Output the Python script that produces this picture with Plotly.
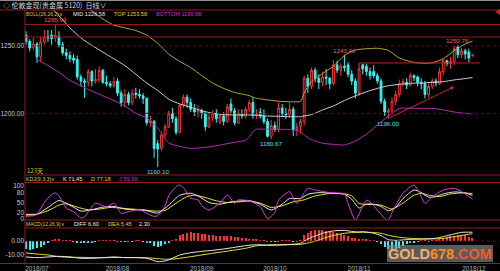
import plotly.graph_objects as go

W, H = 500, 271


def px(x):
    return x / W


def py(y):
    return 1 - y / H


# ---------------- data ----------------
idx = list(range(123))
opens = [1258, 1253.5, 1249, 1251.5, 1242, 1253, 1257, 1258, 1256, 1257,
         1251, 1245, 1243, 1241, 1240, 1227, 1224, 1223, 1231, 1224,
         1225, 1232, 1223, 1222, 1220.5, 1224, 1215, 1208, 1214, 1208,
         1215, 1214, 1213, 1211, 1193, 1194, 1177.5, 1174, 1184, 1190,
         1200, 1196, 1186, 1206, 1212, 1208, 1203, 1201, 1202, 1200,
         1190, 1197, 1200, 1193.5, 1198, 1194, 1207, 1202, 1193, 1200,
         1198, 1203, 1208, 1199, 1201, 1198, 1194, 1183, 1191, 1188,
         1204, 1200, 1199, 1203, 1188, 1190, 1194, 1226, 1220, 1232,
         1226, 1223, 1227, 1226, 1222, 1236, 1232, 1235, 1236, 1229,
         1224, 1215, 1236, 1235, 1231, 1231, 1228, 1224, 1209, 1201,
         1202, 1209, 1214, 1222, 1223, 1221, 1228, 1227, 1223, 1222,
         1214, 1220, 1224, 1222, 1231, 1239, 1237, 1238, 1249.5, 1243.5,
         1246.5, 1245.5, 1243]
highs = [1261, 1255, 1256, 1253, 1257, 1262, 1262, 1262, 1265.99, 1261,
         1253, 1248, 1246, 1244, 1243, 1229, 1226, 1233, 1232, 1233,
         1235, 1233, 1228, 1224, 1227, 1226, 1217, 1218, 1216, 1218,
         1219, 1218, 1215, 1212, 1198, 1195, 1180, 1186, 1192, 1202,
         1204, 1198, 1207, 1214, 1214, 1211, 1207, 1206, 1203.5, 1201,
         1200, 1202, 1203, 1199, 1201, 1207, 1211, 1204, 1203, 1203,
         1205, 1210, 1212, 1203, 1204, 1203, 1196, 1195, 1194, 1208,
         1207, 1204, 1208, 1205, 1193, 1196, 1228, 1229, 1234, 1234,
         1229, 1231, 1233, 1227, 1239.5, 1239, 1237, 1243.48, 1238, 1232,
         1226, 1237.4, 1237, 1237, 1234, 1236, 1230, 1226, 1211, 1204,
         1212, 1217, 1225, 1226, 1226, 1230, 1229, 1228, 1226, 1224,
         1222, 1226, 1226, 1234, 1241, 1240, 1242, 1250, 1250.76, 1248.5,
         1248, 1248, 1244]
lows = [1251, 1246, 1247, 1237.5, 1238, 1251, 1253, 1251, 1253, 1249,
        1243, 1240, 1238, 1237, 1225, 1220, 1211.5, 1220, 1220, 1222,
        1223, 1222, 1220, 1219, 1219, 1213, 1205, 1205, 1206, 1206,
        1211, 1211, 1207, 1191, 1190, 1167, 1160.1, 1172, 1182, 1189,
        1193, 1184, 1185, 1204, 1204, 1201, 1198, 1197, 1196, 1187,
        1189, 1194, 1193, 1192, 1191, 1193, 1200, 1191, 1192, 1196,
        1196, 1201, 1196, 1196, 1196, 1192, 1182, 1180.67, 1186, 1186,
        1198, 1196, 1197, 1183, 1183, 1185, 1191, 1215, 1218, 1223,
        1218, 1220, 1221, 1218, 1221, 1230, 1228, 1231, 1227, 1221,
        1211, 1213, 1229, 1228, 1225, 1226, 1222, 1207, 1198, 1196.00,
        1199, 1206, 1212, 1220, 1218, 1220, 1224, 1220, 1218, 1211,
        1212, 1218, 1220, 1221, 1228, 1235, 1233, 1236, 1241, 1241,
        1240, 1238, 1242]
closes = [1253.5, 1248.5, 1251.5, 1242, 1253, 1257, 1256, 1255.5, 1258, 1251,
          1245, 1243, 1240.5, 1239.5, 1227, 1224, 1223, 1231, 1224, 1225,
          1232, 1223, 1222, 1220.5, 1223.5, 1215, 1208, 1214, 1208, 1215,
          1214, 1213, 1211, 1193, 1194, 1174, 1173.5, 1184, 1190, 1200,
          1196, 1186, 1206, 1212, 1208, 1203, 1201, 1202, 1200, 1190,
          1197, 1200, 1196, 1198, 1194, 1205, 1202, 1193, 1200, 1198,
          1203, 1208, 1199, 1199.5, 1198, 1194, 1183, 1191, 1188, 1204,
          1200, 1199, 1203, 1188, 1190, 1194, 1226, 1220, 1232, 1226,
          1223, 1227, 1226, 1222, 1236, 1232, 1235, 1234, 1229, 1224,
          1215, 1233, 1233, 1231, 1228, 1228, 1224, 1209, 1201, 1202,
          1209, 1214, 1222, 1223.5, 1221, 1228, 1226.5, 1223, 1222, 1214,
          1220, 1224, 1222.5, 1231, 1239, 1237, 1238.5, 1248, 1243.5, 1246.5,
          1244, 1241, 1243.4]

# Bollinger (26,26,2) lines
boll_idx = [0, 3, 6, 9, 12, 15, 18, 21, 24, 27, 30, 33, 36, 39, 42, 45, 48, 51, 54, 57,
            60, 61, 62, 63, 66, 69, 72, 75, 76, 77, 78, 81, 84, 87, 90, 93, 96, 99, 102, 105,
            108, 111, 114, 117, 120, 122]
boll_mid = [None, None, 1281, 1272.5, 1263.5, 1256, 1250.5, 1245.5, 1240.5, 1235.5,
            1229, 1222.5, 1217, 1210.5, 1207, 1204.5, 1202, 1200, 1199, 1198.8,
            1198.8, 1198.8, 1198.6, 1198.5, 1198, 1197.8, 1197.5, 1197.5, 1198, 1198.5,
            1199, 1202.5, 1205.5, 1209.5, 1213, 1216, 1218.5, 1220.5, 1221.5, 1222.3,
            1222.5, 1223, 1223.5, 1224.8, 1225.8, 1226.58]
boll_top = [None, None, None, None, None, 1283, 1276, 1270, 1265.5, 1263.5,
            1261.5, 1258, 1252, 1244, 1238.5, 1234, 1228, 1222.5, 1218.5, 1215.5,
            1213.8, 1213.2, 1212, 1211.2, 1210, 1209, 1208.6, 1209, 1215, 1220,
            1223.5, 1229.5, 1235, 1243, 1247, 1248, 1248.3, 1246.8, 1241, 1238.5,
            1237.2, 1237.5, 1240.5, 1246.5, 1251.5, 1253.58]
boll_bot = [None, 1240, 1235.5, 1230.5, 1224.5, 1220.5, 1216.5, 1213, 1209.5, 1205.5,
            1200, 1196.5, 1189, 1178, 1175.5, 1174, 1174.5, 1175.5, 1177, 1178.5,
            1180, 1182.5, 1186.4, 1188.2, 1188.2, 1188.2, 1188, 1186.5, 1184, 1182,
            1180.5, 1177.8, 1177, 1176.5, 1179.5, 1184.5, 1191.5, 1198, 1203.7, 1203.7,
            1203.7, 1203.7, 1202.6, 1201, 1200, 1199.58]

# KDJ (9,3,3)
k_idx = [0, 3, 6, 9, 12, 15, 18, 21, 24, 27, 30, 33, 36, 39, 42, 45, 47, 50, 53, 56,
         59, 61, 64, 67, 70, 72, 75, 77, 80, 84, 87, 89, 91, 93, 95, 97, 99, 101, 103, 106,
         108, 110, 112, 114, 117, 120, 122]
k_val = [12, 14, 35, 56, 42, 24, 28, 36, 38, 30, 28, 25, 18, 42, 72, 78, 70, 50, 45, 52,
         55, 56, 45, 27, 45, 62, 62, 75, 80, 78, 75, 60, 33, 45, 45, 38, 25, 35, 62, 88,
         80, 66, 68, 76, 82, 79, 71.45]
d_idx = [0, 3, 6, 9, 11, 14, 17, 20, 23, 26, 29, 32, 35, 38, 41, 44, 46, 49, 52, 55,
         58, 61, 64, 67, 70, 73, 76, 79, 83, 87, 89, 91, 94, 97, 100, 103, 106, 108, 110, 113,
         116, 119, 122]
d_val = [14, 15, 25, 42, 46, 36, 28, 30, 35, 33, 30, 28, 24, 26, 48, 68, 72, 65, 55, 50,
         52, 54, 48, 35, 40, 52, 58, 70, 77, 76, 70, 47, 44, 42, 30, 48, 72, 78, 72, 68,
         76, 79, 77.18]
j_idx = [0, 2, 3, 5, 7, 8, 9, 10, 11, 13, 15, 16, 17, 19, 21, 22, 24, 26, 28, 31,
         33, 35, 36, 38, 39, 41, 42, 43, 45, 47, 48, 50, 53, 55, 57, 58, 61, 64, 66, 68,
         69, 72, 74, 76, 77, 79, 83, 87, 88, 90, 92, 93, 94, 96, 98, 99, 100, 103, 106, 108,
         109, 111, 114, 117, 119, 122]
j_val = [8, 10, 14, 50, 74, 79, 70, 50, 33, 22, 3, 6, 22, 48, 40, 36, 48, 17, 22, 29,
         17, 8, 10, 40, 70, 98, 103, 95, 63, 58, 40, 27, 48, 73, 48, 58, 55, 37, 1, 20,
         57, 83, 47, 80, 93, 88, 80, 76, 47, -4, 40, 57, 52, 27, 2, -4, 20, 78, 103, 67,
         47, 67, 88, 93, 83, 59.99]

# MACD (12,26,9)
macd_idx = [0, 3, 6, 9, 12, 15, 18, 21, 24, 27, 30, 33, 36, 38, 40, 42, 45, 48, 51, 54,
            57, 60, 63, 66, 69, 72, 75, 77, 79, 81, 84, 87, 89, 91, 92, 95, 97, 99, 101, 103,
            105, 106, 109, 112, 114, 116, 119, 122]
diff_val = [-12, -12.5, -12, -11.5, -12, -13, -13, -12.5, -12, -12.5,
            -12.5, -13, -15.5, -15, -13, -10.5, -8.8, -7.8, -7, -6,
            -4.8, -3.5, -2.8, -3.2, -3.0, -2.6, -1.8, 1.5, 3.8, 5.8,
            7.6, 8.0, 7.2, 6.8, 7.0, 5.8, 4.0, 1.0, 0.5, 0.8,
            1.2, 1.3, 1.5, 2.1, 3.3, 4.6, 6.5, 6.60]
dea_val = [-9, -9.8, -10.5, -11.8, -12.2, -12.3, -12.5, -12.6, -12.4, -12.4,
           -12.5, -12.6, -13.3, -13.7, -13.6, -13, -11.8, -10.5, -9.2, -8,
           -6.8, -5.5, -3.6, -3.0, -2.9, -2.8, -2.5, -1.5, -0.2, 1.8,
           4.2, 5.8, 6.3, 6.5, 6.6, 6.4, 5.8, 4.3, 3.2, 2.5,
           2.0, 1.8, 1.6, 1.6, 2.0, 2.8, 4.2, 5.45]
macd_hist = [-6.0, -6.4, -6.2, -5.6,
             -4.2, -2.8, -1.2,
             0.3, 0.8, 1.0, 0.6, 0.3, 0.2,
             -0.6, -1.2, -1.8, -1.6, -1.2, -0.8, -0.4,
             0.2, 0.4, 0.3, 0.1, 0.2, -0.2, -0.5, -0.3, -0.4, -0.1, 0.2, 0.1, -0.1,
             -1.5, -1.8, -3.5, -4.2, -3.6, -2.4, -0.8,
             0.6, 1.2,
             4.5, 5.4, 6.0, 6.4, 6.2, 5.9, 5.4, 5.0, 4.6, 4.2, 3.9, 3.6, 3.6, 3.5, 3.5, 3.3, 3.0, 2.5, 2.1,
             1.7, 1.3, 0.8, 0.5, 0.1, -0.4, -0.7, -0.5, -0.1, 0.2, 0.4, 0.5, -0.2, -0.4, 0.3,
             4.5, 5.8, 7.2, 8.2, 8.4, 8.0, 7.4, 6.8, 6.6, 5.9, 5.2, 4.6, 3.4,
             2.6, 2.0, 1.4, 1.6, 1.2, 0.7, 0.2, -0.4,
             -2.2, -4.2, -6.0, -6.6, -6.2, -5.2, -4.0, -2.6, -1.6,
             -0.8, -0.3, 0.1, 0.2, -0.2, 0.3, 0.6,
             1.4, 2.2, 2.8, 3.4, 4.0, 4.6, 4.6, 4.2, 3.2, 2.30]

month_idx = [3, 25, 48, 68, 91, 122.4]
month_labels = ["2018/07", "2018/08", "2018/09", "2018/10", "2018/11", "2018/12"]

# marked extremes (candle index, price, is_high)
marks = [(8, 1265.99, True), (36, 1160.10, False), (67, 1180.67, False),
         (87, 1243.48, True), (99, 1196.00, False), (118, 1250.76, True)]

# drawn lines on the chart
level_lines = [1265.99, 1256.7]
support_seg = (91, 124, 1237.4)
trend_from = (99, 1196.3)
trend_to = (117, 1219.8)

# ---------------- geometry ----------------
X0PX, XSTEP = 26.0, 3.66
x_range = [(25 - X0PX) / XSTEP, (500 - X0PX) / XSTEP]
PY_REF, P_REF, PSTEP = 46.0, 1250.0, 1.347


def price_at(y):
    return P_REF - (y - PY_REF) / PSTEP


main_top, main_bot = 10, 175
kdj_top, kdj_bot = 175, 220
macd_top, macd_bot = 220, 263.5

RED = "#ff3232"
CYAN = "#3cf0f0"
GRID = "#9a1a1a"
FONT = "Liberation Sans"

fig = go.Figure()

fig.add_trace(go.Candlestick(
    x=idx, open=opens, high=highs, low=lows, close=closes,
    increasing=dict(line=dict(color=RED, width=1), fillcolor="rgba(0,0,0,0)"),
    decreasing=dict(line=dict(color=CYAN, width=1), fillcolor=CYAN),
    whiskerwidth=0, xaxis="x", yaxis="y", showlegend=False))

for vals, col in [(boll_mid, "#cfcfcf"), (boll_top, "#b8a632"), (boll_bot, "#b82cb8")]:
    fig.add_trace(go.Scatter(x=boll_idx, y=vals, mode="lines", xaxis="x", yaxis="y",
                             line=dict(color=col, width=1, shape="spline", smoothing=0.6),
                             showlegend=False, hoverinfo="skip"))

for xs, vals, col in [(d_idx, d_val, "#e6e61e"), (k_idx, k_val, "#e8e8e8"), (j_idx, j_val, "#e03ce0")]:
    fig.add_trace(go.Scatter(x=xs, y=vals, mode="lines", xaxis="x2", yaxis="y2",
                             line=dict(color=col, width=1, shape="spline", smoothing=0.6),
                             showlegend=False, hoverinfo="skip"))

fig.add_trace(go.Bar(x=idx, y=macd_hist, xaxis="x3", yaxis="y3", width=0.32,
                     marker=dict(color=[RED if v >= 0 else CYAN for v in macd_hist], line=dict(width=0)),
                     showlegend=False, hoverinfo="skip"))
for vals, col in [(dea_val, "#e6e61e"), (diff_val, "#e8e8e8")]:
    fig.add_trace(go.Scatter(x=macd_idx, y=vals, mode="lines", xaxis="x3", yaxis="y3",
                             line=dict(color=col, width=1, shape="spline", smoothing=0.6),
                             showlegend=False, hoverinfo="skip"))

hidden_x = dict(domain=[px(25), 1], range=x_range, showgrid=False, zeroline=False,
                showline=False, showticklabels=False, ticks="", fixedrange=True)
tickfont = dict(family=FONT, size=6.5, color="#c8c8c8")
ycommon = dict(showgrid=False, zeroline=False, showline=False, ticks="", automargin=False,
               tickfont=tickfont, fixedrange=True)

shapes = []
# red panel borders
for yline, full in [(main_top, True), (main_bot, False), (182.5, False), (kdj_bot, False),
                    (228, False), (macd_bot, True)]:
    shapes.append(dict(type="line", xref="paper", yref="paper", x0=0 if full else px(25), x1=1,
                       y0=py(yline), y1=py(yline), line=dict(color=GRID, width=1)))
shapes.append(dict(type="line", xref="paper", yref="paper", x0=px(25), x1=px(25),
                   y0=py(main_top), y1=py(macd_bot), line=dict(color=GRID, width=1)))
shapes.append(dict(type="line", xref="paper", yref="paper", x0=0, x1=1, y0=py(0.5), y1=py(0.5),
                   line=dict(color="#8c8c8c", width=1)))
# price grid
for lv in [1250, 1200]:
    shapes.append(dict(type="line", xref="paper", yref="y", x0=px(25), x1=1, y0=lv, y1=lv,
                       line=dict(color="#5a1010", width=1, dash="dot")))
# drawn level lines
for lv in level_lines:
    shapes.append(dict(type="line", xref="paper", yref="y", x0=px(25), x1=1, y0=lv, y1=lv,
                       line=dict(color=GRID, width=1)))
shapes.append(dict(type="line", xref="x", yref="y", x0=support_seg[0], x1=support_seg[1],
                   y0=support_seg[2], y1=support_seg[2], line=dict(color="#c02020", width=1)))
# macd zero line
shapes.append(dict(type="line", xref="paper", yref="y3", x0=px(25), x1=1, y0=0, y1=0,
                   line=dict(color="#5a1010", width=1, dash="dot")))
# right edge marker
shapes.append(dict(type="path", xref="paper", yref="paper",
                   path=f"M {px(500)} {py(9)} L {px(495)} {py(12)} L {px(500)} {py(15)} Z",
                   fillcolor="#d02020", line=dict(width=0)))
# watermark box
shapes.append(dict(type="rect", xref="paper", yref="paper", x0=px(387), x1=px(493),
                   y0=py(262), y1=py(245), fillcolor="rgba(150,150,150,0.6)",
                   line=dict(width=0), layer="above"))

ann = []


def txt(x, y, s, color, size=6, anchor="left", family=FONT):
    ann.append(dict(xref="paper", yref="paper", x=px(x), y=py(y), text=s, showarrow=False,
                    xanchor=anchor, yanchor="middle", borderpad=0,
                    font=dict(family=family, size=size, color=color)))


txt(2, 5, "◇ 伦敦金现(贵金属 5120)  日线∨", "#d8d8d8", 7, family="Noto Sans CJK SC")
txt(25, 14.3, "BOLL(26,26,2)∨", "#d2c850", 5)
txt(72, 14.3, f"MID {boll_mid[-1]:.2f}", "#e8e8e8", 5.6)
txt(113, 14.3, f"TOP {boll_top[-1]:.2f}", "#e0d030", 5.6)
txt(155, 14.3, f"BOTTOM {boll_bot[-1]:.2f}", "#d030d0", 5.6)
txt(26, 170, f"{len(idx)}天", "#d2c850", 6, family="Noto Sans CJK SC")
txt(25, 179, "KDJ(9,3,3)∨", "#d2c850", 5.3)
txt(62, 179, f"K {k_val[-1]:.2f}", "#e8e8e8", 5.6)
txt(90, 179, f"D {d_val[-1]:.2f}", "#e0d030", 5.6)
txt(118, 179, f"J {j_val[-1]:.2f}", "#d030d0", 5.6)
txt(25, 224, "MACD(12,26,9)∨", "#d2c850", 5)
txt(73, 224, f"DIFF {diff_val[-1]:.2f}", "#e8e8e8", 5.6)
txt(107, 224, f"DEA {dea_val[-1]:.2f}", "#e0d030", 5.6)
txt(138, 224, f"{macd_hist[-1]:.2f}", "#e8e8e8", 5.6)

for i, p, hi in marks:
    ann.append(dict(xref="x", yref="y", x=i, y=p, text=f"{p:.2f}", showarrow=False,
                    xanchor="center", yanchor="bottom" if hi else "top", borderpad=0,
                    font=dict(family=FONT, size=6.2, color="#ff5a5a" if hi else "#40e0e0")))

ann.append(dict(xref="x", yref="y", x=trend_to[0], y=trend_to[1], ax=trend_from[0], ay=trend_from[1],
                axref="x", ayref="y", text="", showarrow=True, arrowhead=2, arrowsize=0.8,
                arrowwidth=1, arrowcolor="#d02828"))

ann.append(dict(xref="paper", yref="paper", x=px(440), y=py(253.5), showarrow=False,
                xanchor="center", yanchor="middle",
                text="<b><span style='color:#f2b070'>GOLD</span><span style='color:#ff8a1e'>678</span>"
                     "<span style='color:#ee5a30'>.COM</span></b>",
                font=dict(family=FONT, size=14.5)))

fig.update_layout(
    width=W, height=H, margin=dict(l=0, r=0, t=0, b=0),
    paper_bgcolor="black", plot_bgcolor="black", showlegend=False, bargap=0,
    xaxis=dict(hidden_x, anchor="y", rangeslider=dict(visible=False)),
    xaxis2=dict(hidden_x, anchor="y2", matches="x"),
    xaxis3=dict(domain=[px(25), 1], range=x_range, anchor="y3", matches="x", showgrid=False,
                zeroline=False, showline=False, ticks="", tickvals=month_idx, ticktext=month_labels,
                tickfont=dict(family=FONT, size=6.5, color="#b4b4b4"), fixedrange=True),
    yaxis=dict(ycommon, domain=[py(main_bot), py(main_top)],
               range=[price_at(main_bot), price_at(main_top)], anchor="x",
               tickvals=[1200, 1250], ticktext=["1200.00", "1250.00"]),
    yaxis2=dict(ycommon, domain=[py(kdj_bot), py(kdj_top)],
                range=[(219 - kdj_bot) / 0.33, (219 - kdj_top) / 0.33], anchor="x2",
                tickvals=[0, 20, 50, 80, 100]),
    yaxis3=dict(ycommon, domain=[py(macd_bot), py(macd_top)],
                range=[(241 - macd_bot) / 1.33, (241 - macd_top) / 1.33], anchor="x3",
                tickvals=[-10, 0], ticktext=["-10.00", "0.00"]),
    shapes=shapes, annotations=ann,
)

fig.write_html("out.html")
